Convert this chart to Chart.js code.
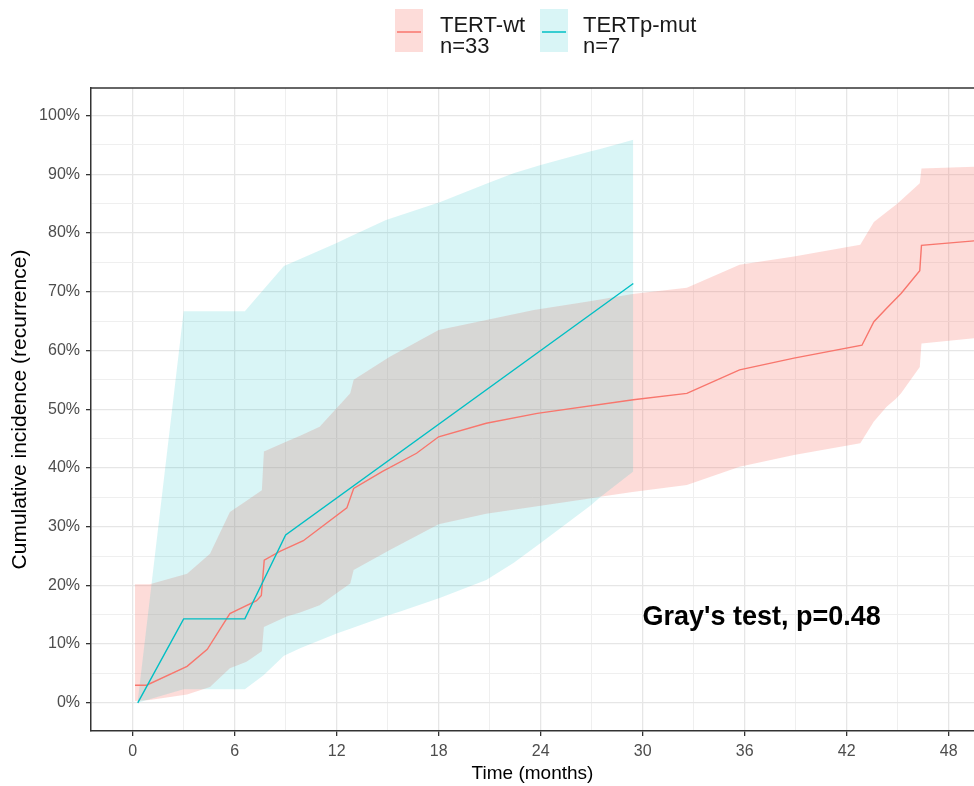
<!DOCTYPE html>
<html>
<head>
<meta charset="utf-8">
<script src="https://cdn.jsdelivr.net/npm/chart.js@4.4.1/dist/chart.umd.min.js"></script>
<style>
  html, body { margin: 0; padding: 0; background: #fff; }
  canvas { display: block; }
</style>
</head>
<body>
<canvas id="cif_chart" width="974" height="786"></canvas>
<script>
// TERT-wt, n=33 : cumulative incidence line (months, %)
const wt_x = [0.14, 0.82, 3.2, 4.39, 5.72, 7.29, 7.57, 7.74, 8.66, 10.04, 12.6, 13.0, 14.7, 16.7, 18.0, 20.8, 23.8, 29.45, 32.6, 35.7, 38.9, 42.9, 43.6, 44.35, 45.2, 46.3, 46.4, 49.6];
const wt_y = [3.0, 3.0, 6.2, 9.1, 15.2, 17.4, 18.3, 24.3, 25.8, 27.6, 33.2, 36.5, 39.4, 42.5, 45.3, 47.6, 49.3, 51.6, 52.7, 56.7, 58.7, 60.9, 64.9, 67.2, 69.7, 73.6, 77.9, 78.7];
// TERT-wt confidence band
const wt_band_x = [0.14, 1.0, 3.2, 4.55, 5.72, 6.7, 7.6, 7.72, 9.06, 9.85, 11.0, 12.8, 13.0, 15.1, 18.0, 20.8, 23.6, 26.7, 27.5, 29.4, 32.6, 35.7, 38.9, 42.8, 43.6, 44.35, 44.9, 45.2, 46.3, 46.4, 49.6];
const wt_upper = [20.2, 20.2, 22.0, 25.4, 32.5, 34.4, 36.2, 42.8, 44.5, 45.5, 47.0, 52.7, 55.0, 58.9, 63.5, 65.2, 66.9, 68.3, 68.7, 69.6, 70.7, 74.6, 76.0, 78.0, 81.9, 83.6, 84.8, 85.6, 88.5, 91.0, 91.3];
const wt_lower = [0.3, 0.5, 1.4, 2.7, 5.9, 7.0, 8.8, 12.9, 14.7, 15.4, 16.6, 20.3, 22.6, 26.0, 30.4, 32.2, 33.4, 34.7, 35.1, 35.9, 37.1, 40.2, 42.2, 44.2, 47.9, 50.4, 51.8, 52.7, 57.2, 61.2, 62.1];

// TERTp-mut, n=7
const mut_x = [0.3, 3.0, 6.6, 9.0, 29.45];
const mut_y = [0.0, 14.3, 14.3, 28.6, 71.4];
const mut_band_x = [0.3, 3.0, 6.6, 7.7, 8.9, 9.85, 12.0, 12.8, 14.9, 15.7, 18.1, 20.8, 22.4, 24.0, 26.9, 27.5, 29.45];
const mut_upper = [0.3, 66.7, 66.7, 70.4, 74.4, 75.6, 78.3, 79.4, 82.2, 83.0, 85.3, 88.4, 90.2, 91.6, 93.9, 94.3, 95.9];
const mut_lower = [0.0, 2.3, 2.3, 4.7, 8.0, 9.3, 11.8, 12.6, 14.8, 15.5, 17.9, 20.9, 23.8, 27.2, 33.5, 35.0, 39.4];

const x_ticks = [0, 3, 6, 9, 12, 15, 18, 21, 24, 27, 30, 33, 36, 39, 42, 45, 48];
const y_ticks = [0, 5, 10, 15, 20, 25, 30, 35, 40, 45, 50, 55, 60, 65, 70, 75, 80, 85, 90, 95, 100];

const legend_names = ["TERT-wt", "TERTp-mut"];
const legend_n = ["n=33", "n=7"];
const test_label = "Gray's test, p=0.48";

const RED = "#F8766D";
const CYAN = "#00BFC4";
const RED_FILL = "rgba(248,118,109,0.26)";
const CYAN_FILL = "rgba(0,191,196,0.15)";
const FONT = '"Liberation Sans", Arial, sans-serif';

function pts(xs, ys) {
    return xs.map((x, i) => ({ x: x, y: ys[i] }));
}

// legend, panel border and the test label
const extras = {
    id: "extras",
    afterDatasetsDraw(chart) {
        const ctx = chart.ctx;
        const a = chart.chartArea;
        const xs = chart.scales.x, ys = chart.scales.y;
        ctx.save();
        ctx.fillStyle = "#000";
        ctx.font = "bold 27px " + FONT;
        ctx.textAlign = "center";
        ctx.textBaseline = "middle";
        ctx.fillText(test_label, xs.getPixelForValue(37), ys.getPixelForValue(14.6));
        // top border of the panel
        ctx.strokeStyle = "#333";
        ctx.lineWidth = 1.5;
        ctx.beginPath();
        ctx.moveTo(a.left, a.top);
        ctx.lineTo(a.right, a.top);
        ctx.stroke();
        ctx.restore();
    },
    afterDraw(chart) {
        const ctx = chart.ctx;
        const keys = [
            { x: 395, fill: RED_FILL, line: RED, text_x: 440 },
            { x: 540, fill: CYAN_FILL, line: CYAN, text_x: 583 }
        ];
        ctx.save();
        keys.forEach((k, i) => {
            ctx.fillStyle = "#fff";
            ctx.fillRect(k.x, 9, 28, 43);
            ctx.fillStyle = k.fill;
            ctx.fillRect(k.x, 9, 28, 43);
            ctx.strokeStyle = k.line;
            ctx.lineWidth = 1.5;
            ctx.beginPath();
            ctx.moveTo(k.x + 2, 32);
            ctx.lineTo(k.x + 26, 32);
            ctx.stroke();
            ctx.fillStyle = "#1a1a1a";
            ctx.font = "22px " + FONT;
            ctx.textAlign = "left";
            ctx.textBaseline = "alphabetic";
            ctx.fillText(legend_names[i], k.text_x, 31.5);
            ctx.fillText(legend_n[i], k.text_x, 53);
        });
        ctx.restore();
    }
};

Chart.defaults.font.family = FONT;
Chart.defaults.color = "#4d4d4d";

const config = {
    type: "line",
    data: {
        datasets: [
            { label: "wt upper", data: pts(wt_band_x, wt_upper), fill: "+1", backgroundColor: RED_FILL, borderWidth: 0, borderColor: "transparent", order: 5 },
            { label: "wt lower", data: pts(wt_band_x, wt_lower), fill: false, borderWidth: 0, borderColor: "transparent", order: 5 },
            { label: "mut upper", data: pts(mut_band_x, mut_upper), fill: "+1", backgroundColor: CYAN_FILL, borderWidth: 0, borderColor: "transparent", order: 4 },
            { label: "mut lower", data: pts(mut_band_x, mut_lower), fill: false, borderWidth: 0, borderColor: "transparent", order: 4 },
            { label: "TERT-wt", data: pts(wt_x, wt_y), borderColor: RED, borderWidth: 1.4, fill: false, order: 2 },
            { label: "TERTp-mut", data: pts(mut_x, mut_y), borderColor: CYAN, borderWidth: 1.4, fill: false, order: 1 }
        ]
    },
    options: {
        responsive: false,
        animation: false,
        layout: { padding: { top: 88, right: 0, left: 0, bottom: 0 } },
        elements: { point: { radius: 0 }, line: { tension: 0 } },
        plugins: {
            legend: { display: false },
            tooltip: { enabled: false }
        },
        scales: {
            x: {
                type: "linear",
                min: -2.45,
                max: 49.49,
                afterBuildTicks: (s) => { s.ticks = x_ticks.map(v => ({ value: v })); },
                afterFit: (s) => { s.height = 55; },
                ticks: {
                    autoSkip: false,
                    maxRotation: 0,
                    padding: 6,
                    font: { size: 16 },
                    color: "#4d4d4d",
                    callback: (v) => (v % 6 === 0 ? String(v) : "")
                },
                grid: {
                    color: (c) => (c.tick && c.tick.value % 6 === 0 ? "#e6e6e6" : "#efefef"),
                    lineWidth: (c) => (c.tick && c.tick.value % 6 === 0 ? 1.3 : 1),
                    tickLength: 5,
                    tickWidth: 1.3,
                    tickColor: (c) => (c.tick && c.tick.value % 6 === 0 ? "#333" : "rgba(0,0,0,0)")
                },
                border: { display: true, color: "#333", width: 1.5 },
                title: {
                    display: true,
                    text: "Time (months)",
                    color: "#000",
                    font: { size: 19 },
                    padding: { top: 0, bottom: 1 }
                }
            },
            y: {
                type: "linear",
                min: -4.8,
                max: 104.7,
                afterBuildTicks: (s) => { s.ticks = y_ticks.map(v => ({ value: v })); },
                afterFit: (s) => { s.width = 91; },
                ticks: {
                    autoSkip: false,
                    padding: 6,
                    font: { size: 16 },
                    color: "#4d4d4d",
                    callback: (v) => (v % 10 === 0 ? v + "%" : "")
                },
                grid: {
                    color: (c) => (c.tick && c.tick.value % 10 === 0 ? "#e6e6e6" : "#efefef"),
                    lineWidth: (c) => (c.tick && c.tick.value % 10 === 0 ? 1.3 : 1),
                    tickLength: 5,
                    tickWidth: 1.3,
                    tickColor: (c) => (c.tick && c.tick.value % 10 === 0 ? "#333" : "rgba(0,0,0,0)")
                },
                border: { display: true, color: "#333", width: 1.5 },
                title: {
                    display: true,
                    text: "Cumulative incidence (recurrence)",
                    color: "#000",
                    font: { size: 21 },
                    padding: { top: 7.5, bottom: 0 }
                }
            }
        }
    },
    plugins: [extras]
};

const cif_chart = new Chart(document.getElementById("cif_chart"), config);
</script>
</body>
</html>
